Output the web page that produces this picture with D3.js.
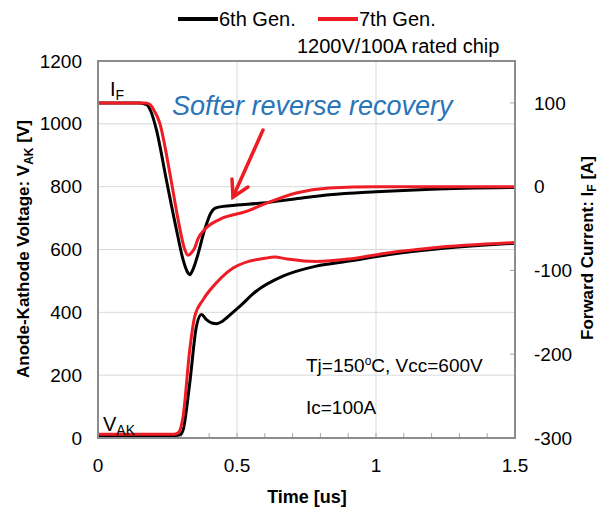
<!DOCTYPE html>
<html>
<head>
<meta charset="utf-8">
<script src="https://cdn.jsdelivr.net/npm/d3@7"></script>
<style>
  body { margin: 0; background: #fff; }
  text { font-family: "Liberation Sans", Arial, sans-serif; }
</style>
</head>
<body>
<div id="chart"></div>
<script>
// series: time in us, current in A (right axis), voltage in V (left axis)
const gen6IfTime = [0, 0.15, 0.175, 0.19, 0.21, 0.246, 0.282, 0.306, 0.322, 0.33, 0.34, 0.354, 0.384, 0.405, 0.42, 0.45, 0.5, 0.593, 0.7, 0.832, 1.0, 1.2, 1.5];
const gen6If = [100, 100, 98, 90, 68, 8, -51, -87, -102, -105, -100, -87, -51, -32, -26, -23.5, -22, -19.5, -15, -9.6, -6, -3, -1];

const gen7IfTime = [0, 0.17, 0.187, 0.2, 0.222, 0.258, 0.288, 0.312, 0.324, 0.336, 0.348, 0.36, 0.384, 0.438, 0.534, 0.593, 0.713, 0.832, 1.0, 1.5];
const gen7If = [100, 100, 98, 92, 76, 17, -39, -75, -82, -79, -73, -62, -51, -39, -29.5, -21.5, -7.5, -1.6, 0, 0];

const gen6VakTime = [0, 0.28, 0.295, 0.306, 0.33, 0.354, 0.372, 0.39, 0.41, 0.426, 0.445, 0.462, 0.51, 0.569, 0.665, 0.785, 0.904, 1.048, 1.2, 1.5];
const gen6Vak = [8, 8, 10, 25, 175, 355, 393, 377, 366, 364, 370, 382, 419, 467, 515, 547, 563, 584, 600, 620];

const gen7VakTime = [0, 0.275, 0.29, 0.306, 0.33, 0.348, 0.378, 0.426, 0.486, 0.545, 0.6, 0.635, 0.68, 0.785, 0.904, 1.048, 1.2, 1.5];
const gen7Vak = [12, 12, 18, 68, 281, 387, 440, 494, 541, 563, 572, 576, 570, 562, 570, 590, 605, 622];

const xTicks = [0, 0.5, 1, 1.5];
const vTicks = [0, 200, 400, 600, 800, 1000, 1200];
const iTicks = [100, 0, -100, -200, -300];

const seriesNames = ['6th Gen.', '7th Gen.'];
const seriesColors = ['#000000', '#ee1c24'];

const width = 601;
const height = 507;
const margin = { top: 61, right: 86, bottom: 69, left: 98 };

const svg = d3.select('#chart').append('svg')
  .attr('width', width)
  .attr('height', height);

const x = d3.scaleLinear().domain([0, 1.5]).range([margin.left, width - margin.right]);
const yV = d3.scaleLinear().domain([0, 1200]).range([height - margin.bottom, margin.top]);
const yI = d3.scaleLinear().domain([-300, 150]).range([height - margin.bottom, margin.top]);

const x0 = x(0), x1 = x(1.5), yTop = yV(1200), yBot = yV(0);

// grid
const grid = svg.append('g').attr('stroke', '#d9d9d9').attr('stroke-width', 1);
vTicks.filter((d) => d > 0 && d < 1200).forEach((d) => {
  grid.append('line').attr('x1', x0).attr('x2', x1).attr('y1', yV(d)).attr('y2', yV(d));
});
xTicks.filter((d) => d > 0 && d < 1.5).forEach((d) => {
  grid.append('line').attr('x1', x(d)).attr('x2', x(d)).attr('y1', yTop).attr('y2', yBot);
});

// minor ticks on bottom, major ticks on right
const tk = svg.append('g').attr('stroke', '#a6a6a6').attr('stroke-width', 1);
d3.range(1, 15).forEach((i) => {
  tk.append('line').attr('x1', x(i / 10)).attr('x2', x(i / 10)).attr('y1', yBot).attr('y2', yBot - 5);
});
iTicks.filter((d) => d > -300).forEach((d) => {
  tk.append('line').attr('x1', x1).attr('x2', x1 - 5).attr('y1', yI(d)).attr('y2', yI(d));
});

// curves
const lineI = d3.line().x((d) => x(d[0])).y((d) => yI(d[1])).curve(d3.curveMonotoneX);
const lineV = d3.line().x((d) => x(d[0])).y((d) => yV(d[1])).curve(d3.curveMonotoneX);

const curves = [
  { line: lineV, t: gen6VakTime, v: gen6Vak, c: seriesColors[0] },
  { line: lineI, t: gen6IfTime, v: gen6If, c: seriesColors[0] },
  { line: lineV, t: gen7VakTime, v: gen7Vak, c: seriesColors[1] },
  { line: lineI, t: gen7IfTime, v: gen7If, c: seriesColors[1] }
];
curves.forEach((s) => {
  svg.append('path')
    .attr('d', s.line(d3.zip(s.t, s.v)))
    .attr('fill', 'none')
    .attr('stroke', s.c)
    .attr('stroke-width', 3)
    .attr('stroke-linejoin', 'round');
});

// frame
svg.append('rect')
  .attr('x', x0).attr('y', yTop)
  .attr('width', x1 - x0).attr('height', yBot - yTop)
  .attr('fill', 'none').attr('stroke', '#8c8c8c').attr('stroke-width', 2);

// tick labels
svg.append('g').selectAll('text').data(vTicks).enter().append('text')
  .attr('x', 82).attr('y', (d) => yV(d)).attr('dy', '0.35em')
  .attr('text-anchor', 'end').attr('font-size', 19).text((d) => d);

svg.append('g').selectAll('text').data(iTicks).enter().append('text')
  .attr('x', 534).attr('y', (d) => yI(d)).attr('dy', '0.35em')
  .attr('font-size', 19).text((d) => d);

svg.append('g').selectAll('text').data(xTicks).enter().append('text')
  .attr('x', (d) => x(d)).attr('y', 472)
  .attr('text-anchor', 'middle').attr('font-size', 19).text((d) => d);

// axis titles
svg.append('text')
  .attr('x', 307).attr('y', 503).attr('text-anchor', 'middle')
  .attr('font-size', 18).attr('font-weight', 'bold').text('Time [us]');

const ly = svg.append('text')
  .attr('transform', 'translate(29,249) rotate(-90)')
  .attr('text-anchor', 'middle').attr('font-size', 17).attr('font-weight', 'bold');
ly.append('tspan').text('Anode-Kathode Voltage: V');
ly.append('tspan').attr('font-size', 12).attr('dy', 4).text('AK');
ly.append('tspan').attr('dy', -4).text(' [V]');

const ry = svg.append('text')
  .attr('transform', 'translate(593,248) rotate(-90)')
  .attr('text-anchor', 'middle').attr('font-size', 17).attr('font-weight', 'bold');
ry.append('tspan').text('Forward Current: I');
ry.append('tspan').attr('font-size', 12).attr('dy', 3).text('F');
ry.append('tspan').attr('dy', -3).text(' [A]');

// legend
const legend = svg.append('g');
seriesNames.forEach((name, i) => {
  const lx = 178 + i * 140;
  legend.append('line').attr('x1', lx).attr('x2', lx + 40).attr('y1', 19).attr('y2', 19)
    .attr('stroke', seriesColors[i]).attr('stroke-width', 4);
  legend.append('text').attr('x', lx + 41).attr('y', 26).attr('font-size', 20).text(name);
});
svg.append('text').attr('x', 297).attr('y', 53).attr('font-size', 20).text('1200V/100A rated chip');

// curve labels
const lif = svg.append('text').attr('x', 110).attr('y', 96).attr('font-size', 20);
lif.append('tspan').text('I');
lif.append('tspan').attr('font-size', 14).attr('dy', 4).text('F');

const lvak = svg.append('text').attr('x', 103).attr('y', 431).attr('font-size', 20);
lvak.append('tspan').text('V');
lvak.append('tspan').attr('font-size', 14).attr('dy', 4).text('AK');

// conditions
const cond = svg.append('text').attr('x', 306).attr('y', 372).attr('font-size', 19);
cond.append('tspan').text('Tj=150');
cond.append('tspan').attr('font-size', 12).attr('dy', -7).text('o');
cond.append('tspan').attr('dy', 7).text('C, Vcc=600V');
svg.append('text').attr('x', 306).attr('y', 414).attr('font-size', 19).text('Ic=100A');

// annotation
svg.append('text')
  .attr('x', 172).attr('y', 115)
  .attr('font-size', 27).attr('font-style', 'italic').attr('fill', '#2a74b8')
  .text('Softer reverse recovery');

const arrow = svg.append('g').attr('stroke', '#ee1c24').attr('stroke-width', 3.5)
  .attr('fill', 'none').attr('stroke-linecap', 'round');
arrow.append('line').attr('x1', 263).attr('y1', 130).attr('x2', 233).attr('y2', 197);
arrow.append('path').attr('d', 'M232,179 L233,197 L248,187');
</script>
</body>
</html>
